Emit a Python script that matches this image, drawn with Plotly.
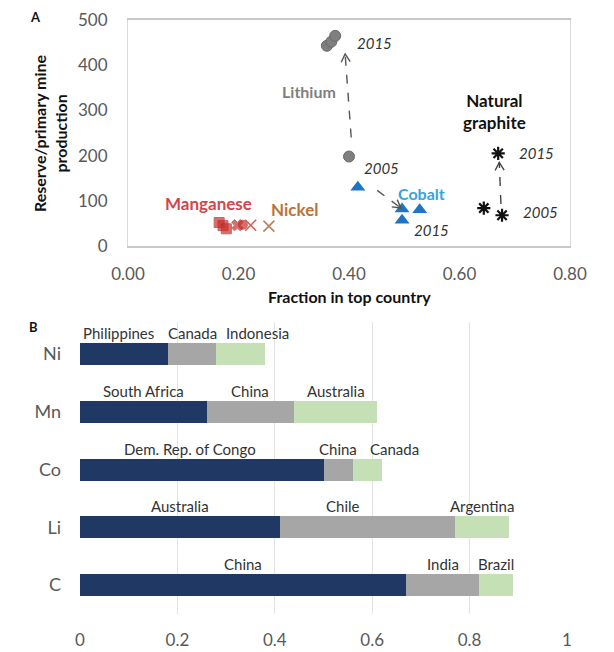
import math
import plotly.graph_objects as go

FONT = "Lato"

# ---- Panel A: reserve/production ratio vs. concentration in top country ----
li_frac = [0.360, 0.368, 0.375, 0.400]
li_ratio = [443, 452, 465, 198]

co_frac = [0.416, 0.496, 0.528, 0.496]
co_ratio = [130, 82, 80, 57]

gr_frac = [0.644, 0.677, 0.670]
gr_ratio = [84, 68, 205]

mn_frac = [0.165, 0.172, 0.178, 0.198, 0.208]
mn_ratio = [52, 45, 38, 46, 47]

ni_frac = [0.222, 0.255]
ni_ratio = [46, 44]

# ---- Panel B: share of production in the top three countries ----
elements = ["Ni", "Mn", "Co", "Li", "C"]
first_share = [0.18, 0.26, 0.50, 0.41, 0.67]
second_share = [0.10, 0.18, 0.06, 0.36, 0.15]
third_share = [0.10, 0.17, 0.06, 0.11, 0.07]
first_country = ["Philippines", "South Africa", "Dem. Rep. of Congo", "Australia", "China"]
second_country = ["Canada", "China", "China", "Chile", "India"]
third_country = ["Indonesia", "Australia", "Canada", "Argentina", "Brazil"]

x_ticks_a = [0.0, 0.2, 0.4, 0.6, 0.8]
y_ticks_a = [0, 100, 200, 300, 400, 500]
x_ticks_b = [0, 0.2, 0.4, 0.6, 0.8, 1]

W, H = 614, 652
# plot areas in pixels (left, right, top, bottom)
A_BOX = (128, 570, 20, 246)
B_BOX = (80, 567, 322, 614)


def dom_x(box):
    return [box[0] / W, box[1] / W]


def dom_y(box):
    return [1 - box[3] / H, 1 - box[2] / H]


fig = go.Figure()

# panel A markers
fig.add_trace(go.Scatter(x=li_frac, y=li_ratio, mode="markers", xaxis="x", yaxis="y",
                         marker=dict(symbol="circle", size=11, color="#7f7f7f",
                                     line=dict(color="#6a6a6a", width=1)),
                         showlegend=False))
fig.add_trace(go.Scatter(x=co_frac, y=co_ratio, mode="markers", xaxis="x", yaxis="y",
                         marker=dict(symbol="triangle-up", size=13, color="#1f74c4"),
                         showlegend=False))
fig.add_trace(go.Scatter(x=gr_frac, y=gr_ratio, mode="markers", xaxis="x", yaxis="y",
                         marker=dict(symbol="asterisk-open", size=11, color="#111111",
                                     line=dict(color="#111111", width=2.2)),
                         showlegend=False))
fig.add_trace(go.Scatter(x=mn_frac, y=mn_ratio, mode="markers", xaxis="x", yaxis="y",
                         marker=dict(symbol=["square", "square", "square", "x", "circle"],
                                     size=[10, 10, 10, 10, 9], color="#c9302c",
                                     line=dict(color="#b02a26", width=1)),
                         showlegend=False))
fig.add_trace(go.Scatter(x=ni_frac, y=ni_ratio, mode="markers", xaxis="x", yaxis="y",
                         marker=dict(symbol="x-thin-open", size=11,
                                     color=["#d0605a", "#b9825c"],
                                     line=dict(color=["#d0605a", "#b9825c"], width=1.6)),
                         showlegend=False))

# panel B stacked bars
seg_colors = ["#203864", "#a6a6a6", "#c5e0b4"]
for share, col in zip([first_share, second_share, third_share], seg_colors):
    fig.add_trace(go.Bar(x=share, y=elements, orientation="h", xaxis="x2", yaxis="y2",
                         marker=dict(color=col, line=dict(width=0)), showlegend=False))

shapes = []
annotations = []

# scale factors (pixels per data unit) for panel A, used to orient arrow heads
PX_X = (A_BOX[1] - A_BOX[0]) / 0.8
PX_Y = (A_BOX[3] - A_BOX[2]) / 500


def dashed_arrow(x0, y0, x1, y1, color):
    shapes.append(dict(type="line", xref="x", yref="y", x0=x0, y0=y0, x1=x1, y1=y1,
                       line=dict(color=color, width=1.4, dash="dash")))
    dx, dy = (x1 - x0) * PX_X, (y1 - y0) * PX_Y
    n = math.hypot(dx, dy)
    ux, uy = dx / n, dy / n
    px, py = -uy, ux
    L, Wd = 8, 4.5
    bx, by = -L * ux, -L * uy
    path = (f"M {bx + Wd * px:.2f},{by + Wd * py:.2f} L 0,0 "
            f"L {bx - Wd * px:.2f},{by - Wd * py:.2f}")
    shapes.append(dict(type="path", xref="x", yref="y", xsizemode="pixel",
                       ysizemode="pixel", xanchor=x1, yanchor=y1, path=path,
                       line=dict(color=color, width=1.4)))


dashed_arrow(li_frac[3] + 0.004, li_ratio[3] + 42, li_frac[1] + 0.025, 425, "#555555")
dashed_arrow(co_frac[0] + 0.035, 123, co_frac[1] - 0.002, 84, "#555555")
dashed_arrow(gr_frac[1] - 0.002, gr_ratio[1] + 25, gr_frac[2] + 0.002, gr_ratio[2] - 20, "#444444")


def label(x, y, text, color, size=16, bold=True, italic=False):
    t = text
    if bold:
        t = f"<b>{t}</b>"
    if italic:
        t = f"<i>{t}</i>"
    annotations.append(dict(x=x, y=y, xref="x", yref="y", text=t, showarrow=False,
                            xanchor="center", yanchor="middle",
                            font=dict(family=FONT, size=size, color=color)))


label(0.328, 342, "Lithium", "#7f7f7f", 16)
label(0.532, 117, "Cobalt", "#35a5da", 16)
label(0.145, 95, "Manganese", "#d0474a", 17)
label(0.302, 80, "Nickel", "#b8733a", 17)
annotations.append(dict(x=0.664, y=298, xref="x", yref="y",
                        text="<b>Natural<br>graphite</b>", showarrow=False,
                        xanchor="center", yanchor="middle",
                        font=dict(family=FONT, size=17, color="#111111")))
for (x, y) in [(0.447, 449), (0.550, 35), (0.740, 205)]:
    label(x, y, "2015", "#333333", 15, bold=False, italic=True)
for (x, y) in [(0.458, 172), (0.746, 75)]:
    label(x, y, "2005", "#333333", 15, bold=False, italic=True)


def paper_text(px, py, text, size, angle=0):
    annotations.append(dict(x=px / W, y=1 - py / H, xref="paper", yref="paper",
                            text=text, textangle=angle, showarrow=False,
                            xanchor="center", yanchor="middle",
                            font=dict(family=FONT, size=size, color="#111111")))


# axis titles and panel letters
paper_text((A_BOX[0] + A_BOX[1]) / 2, 296, "<b>Fraction in top country</b>", 16)
paper_text(50, (A_BOX[2] + A_BOX[3]) / 2, "<b>Reserve/primary mine<br>production</b>", 16, -90)
paper_text(35, 17, "<b>A</b>", 13)
paper_text(33, 327, "<b>B</b>", 13)

# country labels above each bar segment
nudges = {("Ni", 0): -0.01, ("Ni", 2): 0.035, ("Co", 0): -0.025, ("Co", 2): 0.055,
          ("Li", 1): -0.05}
for i, el in enumerate(elements):
    starts = [0, first_share[i], first_share[i] + second_share[i]]
    widths = [first_share[i], second_share[i], third_share[i]]
    names = [first_country[i], second_country[i], third_country[i]]
    for k in range(3):
        cx = starts[k] + widths[k] / 2 + nudges.get((el, k), 0)
        annotations.append(dict(x=cx, y=el, xref="x2", yref="y2", text=names[k],
                                showarrow=False, yanchor="bottom", yshift=10,
                                font=dict(family=FONT, size=15, color="#333333")))

fig.update_layout(
    width=W, height=H, margin=dict(l=0, r=0, t=0, b=0),
    paper_bgcolor="white", plot_bgcolor="white",
    barmode="stack", bargap=0.62,
    shapes=shapes, annotations=annotations,
    xaxis=dict(domain=dom_x(A_BOX), anchor="y", range=[0, 0.8], tickvals=x_ticks_a,
               tickformat=".2f", showgrid=False, zeroline=False, showline=True,
               linecolor="#c8c8c8", linewidth=1.5, mirror=True, ticks="",
               ticklabelstandoff=12, automargin=False,
               tickfont=dict(family=FONT, size=17, color="#595959")),
    yaxis=dict(domain=dom_y(A_BOX), anchor="x", range=[0, 500], tickvals=y_ticks_a,
               showgrid=False, zeroline=False, showline=True, linecolor="#d9d9d9",
               linewidth=1, mirror=True, ticks="", ticklabelstandoff=16,
               automargin=False, tickfont=dict(family=FONT, size=17, color="#595959")),
    xaxis2=dict(domain=dom_x(B_BOX), anchor="y2", range=[0, 1], tickvals=x_ticks_b,
                showgrid=True, gridcolor="#e3e3e3", gridwidth=1, zeroline=False,
                showline=False, ticks="", ticklabelstandoff=14, automargin=False,
                tickfont=dict(family=FONT, size=17, color="#595959")),
    yaxis2=dict(domain=dom_y(B_BOX), anchor="x2", categoryorder="array",
                categoryarray=elements[::-1], showgrid=False, zeroline=False,
                showline=False, ticks="", ticklabelstandoff=18, automargin=False,
                tickfont=dict(family=FONT, size=18, color="#595959")),
)

fig.write_html("out.html")
